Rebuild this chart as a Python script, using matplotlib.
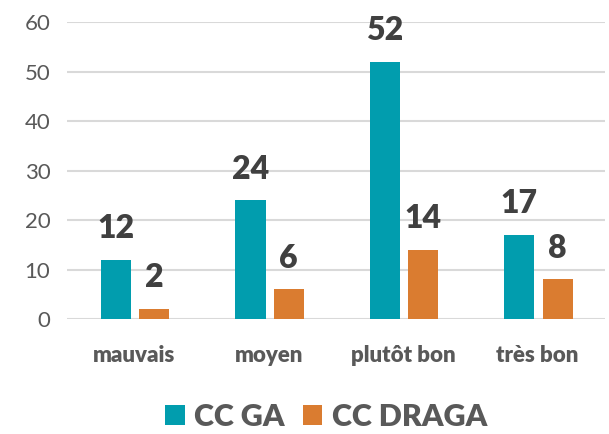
import matplotlib
matplotlib.use("Agg")
import matplotlib.pyplot as plt
import numpy as np

categories = ["mauvais", "moyen", "plutôt bon", "très bon"]
cc_ga = [12, 24, 52, 17]
cc_draga = [2, 6, 14, 8]
series_names = ["CC GA", "CC DRAGA"]

plt.rcParams['font.family'] = ['Lato', 'DejaVu Sans']

teal = "#019DAE"
orange = "#DA7C30"

fig = plt.figure(figsize=(6.09, 4.34), dpi=100)
ax = fig.add_axes([0.110, 0.265, 0.883, 0.684])

x = np.arange(len(categories))
w = 0.225
b1 = ax.bar(x - 0.135, cc_ga, w, color=teal, label=series_names[0], zorder=3)
b2 = ax.bar(x + 0.15, cc_draga, w, color=orange, label=series_names[1], zorder=3)

for bars in (b1, b2):
    for rect in bars:
        h = rect.get_height()
        ax.annotate(str(int(h)), (rect.get_x() + rect.get_width() / 2, h),
                    xytext=(0, 12), textcoords="offset points",
                    ha="center", va="bottom", fontsize=23, fontweight="heavy",
                    color="#404040")

ax.set_ylim(0, 60)
ax.set_xlim(-0.5, len(categories) - 0.5)
ax.set_yticks(range(0, 61, 10))
ax.yaxis.grid(True, color="#D9D9D9", linewidth=1.5, zorder=0)
ax.set_axisbelow(True)
for s in ax.spines.values():
    s.set_visible(False)
ax.tick_params(axis="both", length=0)
ax.tick_params(axis="y", labelsize=16, labelcolor="#595959", pad=12)
ax.set_xticks(x)
ax.set_xticklabels(categories, fontsize=16, fontweight="heavy", color="#595959")
ax.tick_params(axis="x", pad=19)

fig.legend(handles=[b1, b2], loc="center", bbox_to_anchor=(0.535, 0.04),
           ncol=2, frameon=False,
           prop={"weight": "heavy", "size": 22},
           handlelength=0.65, handleheight=0.65, handletextpad=0.3,
           columnspacing=0.6, labelcolor="#595959")

fig.savefig("out.png", dpi=100)
